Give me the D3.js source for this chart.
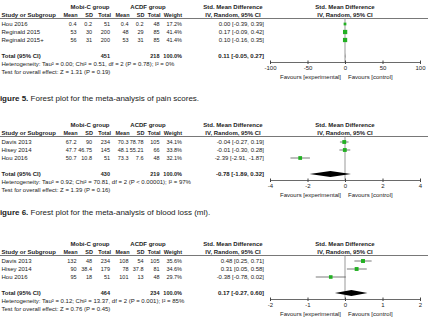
<!DOCTYPE html>
<html>
<head>
<meta charset="utf-8">
<script src="https://cdn.jsdelivr.net/npm/d3@7"></script>
<style>
  body { margin: 0; background: #fff; }
  text { font-family: "Liberation Sans", Arial, sans-serif; fill: #222; }
</style>
</head>
<body>
<div class="chart"></div>
<script>
// data

// Figure 5 - pain scores
var studies5 = ["Hou 2016", "Reginald 2015", "Reginald 2015+"];
var mobi5 = [[0.4, 0.2, 51], [53, 30, 200], [56, 31, 200]];
var acdf5 = [[0.4, 0.2, 48], [48, 29, 85], [53, 31, 85]];
var weight5 = [17.2, 41.4, 41.4];
var smd5 = [[0.00, -0.39, 0.39], [0.17, -0.09, 0.42], [0.10, -0.16, 0.35]];
var total5 = [451, 218, 0.11, -0.05, 0.27];
var het5 = "Heterogeneity: Tau\u00b2 = 0.00; Chi\u00b2 = 0.51, df = 2 (P = 0.78); I\u00b2 = 0%";
var test5 = "Test for overall effect: Z = 1.31 (P = 0.19)";
var ticks5 = [-100, -50, 0, 50, 100];

// Figure 6 - blood loss
var studies6 = ["Davis 2013", "Hisey 2014", "Hou 2016"];
var mobi6 = [[67.2, 90, 234], [47.7, 46.75, 145], [50.7, 10.8, 51]];
var acdf6 = [[70.3, 78.78, 105], [48.1, 55.21, 66], [73.3, 7.6, 48]];
var weight6 = [34.1, 33.8, 32.1];
var smd6 = [[-0.04, -0.27, 0.19], [-0.01, -0.30, 0.28], [-2.39, -2.91, -1.87]];
var total6 = [430, 219, -0.78, -1.89, 0.32];
var het6 = "Heterogeneity: Tau\u00b2 = 0.92; Chi\u00b2 = 70.81, df = 2 (P < 0.00001); I\u00b2 = 97%";
var test6 = "Test for overall effect: Z = 1.39 (P = 0.16)";
var ticks6 = [-4, -2, 0, 2, 4];

// third plot
var studies7 = ["Davis 2013", "Hisey 2014", "Hou 2016"];
var mobi7 = [[132, 48, 234], [90, 38.4, 179], [95, 18, 51]];
var acdf7 = [[108, 54, 105], [78, 37.8, 81], [101, 13, 48]];
var weight7 = [35.6, 34.6, 29.7];
var smd7 = [[0.48, 0.25, 0.71], [0.31, 0.05, 0.58], [-0.38, -0.78, 0.02]];
var total7 = [464, 234, 0.17, -0.27, 0.60];
var het7 = "Heterogeneity: Tau\u00b2 = 0.12; Chi\u00b2 = 13.37, df = 2 (P = 0.001); I\u00b2 = 85%";
var test7 = "Test for overall effect: Z = 0.76 (P = 0.45)";
var ticks7 = [-2, -1, 0, 1, 2];

var captions = [
  {y: 98, bold: "Figure 5.", rest: " Forest plot for the meta-analysis of pain scores."},
  {y: 212, bold: "Figure 6.", rest: " Forest plot for the meta-analysis of blood loss (ml)."}
];

var panels = [
  {top: 0, studies: studies5, mobi: mobi5, acdf: acdf5, weight: weight5, smd: smd5, total: total5, het: het5, test: test5, ticks: ticks5},
  {top: 118, studies: studies6, mobi: mobi6, acdf: acdf6, weight: weight6, smd: smd6, total: total6, het: het6, test: test6, ticks: ticks6},
  {top: 237, studies: studies7, mobi: mobi7, acdf: acdf7, weight: weight7, smd: smd7, total: total7, het: het7, test: test7, ticks: ticks7}
];

var svgWidth = 429, svgHeight = 327;
var fs = 6;      // text
var fsNum = 5.5; // numeric columns

var svg = d3.select(".chart")
  .append("svg")
  .attr("width", svgWidth)
  .attr("height", svgHeight);

// column right edges
var colX = [76.5, 92, 110, 128.5, 143.5, 159.5];
var weightX = 182, ciX = 264, ciHeadX = 233;

function fmt2(v) { return v.toFixed(2); }
function ciText(a) { return fmt2(a[0]) + " [" + fmt2(a[1]) + ", " + fmt2(a[2]) + "]"; }

function txt(g, x, y, s, anchor, bold, size) {
  return g.append("text")
    .attr("x", x)
    .attr("y", y)
    .attr("dy", "0.35em")
    .attr("text-anchor", anchor || "start")
    .attr("font-weight", bold ? "bold" : "normal")
    .attr("font-size", size || fs)
    .text(s);
}

panels.forEach(function(p) {
  var g = svg.append("g").attr("transform", `translate(0, ${p.top})`);

  var x = d3.scaleLinear()
    .domain([p.ticks[0], p.ticks[p.ticks.length - 1]])
    .range([270, 420]);

  var rowY = [24, 32, 40];
  var totalY = 56, axisY = 62;

  // group headers
  txt(g, 90, 7, "Mobi-C group", "middle", true);
  txt(g, 148, 7, "ACDF group", "middle", true);
  txt(g, ciHeadX, 7, "Std. Mean Difference", "middle", true);
  txt(g, x(0), 7, "Std. Mean Difference", "middle", true);

  // column headers
  ["Mean", "SD", "Total", "Mean", "SD", "Total"].forEach(function(h, i) {
    txt(g, colX[i] + 1, 15, h, "end", true, fsNum);
  });
  txt(g, 1.5, 15, "Study or Subgroup", "start", true);
  txt(g, weightX, 15, "Weight", "end", true, fsNum);
  txt(g, ciHeadX, 15, "IV, Random, 95% CI", "middle", true);
  txt(g, x(0), 15, "IV, Random, 95% CI", "middle", true);

  g.append("line")
    .attr("x1", 0).attr("x2", 428)
    .attr("y1", 18.5).attr("y2", 18.5)
    .attr("stroke", "#555")
    .attr("stroke-width", 0.8);

  // study rows
  p.studies.forEach(function(s, i) {
    var y = rowY[i];
    txt(g, 1.5, y, s);
    var vals = p.mobi[i].concat(p.acdf[i]);
    vals.forEach(function(v, j) { txt(g, colX[j], y, String(v), "end", false, fsNum); });
    txt(g, weightX, y, p.weight[i].toFixed(1) + "%", "end", false, fsNum);
    txt(g, ciX, y, ciText(p.smd[i]), "end");
  });

  // total row
  txt(g, 1.5, totalY, "Total (95% CI)", "start", true);
  txt(g, colX[2], totalY, String(p.total[0]), "end", true, fsNum);
  txt(g, colX[5], totalY, String(p.total[1]), "end", true, fsNum);
  txt(g, weightX, totalY, "100.0%", "end", true, fsNum);
  txt(g, ciX, totalY, ciText(p.total.slice(2)), "end", true);
  txt(g, 1.5, 64, p.het);
  txt(g, 1.5, 72, p.test);

  // zero line
  g.append("line")
    .attr("x1", x(0)).attr("x2", x(0))
    .attr("y1", 18.5).attr("y2", axisY)
    .attr("stroke", "#999")
    .attr("stroke-width", 1);

  // CIs and squares
  p.smd.forEach(function(d, i) {
    var y = rowY[i];
    g.append("line")
      .attr("x1", x(d[1])).attr("x2", x(d[2]))
      .attr("y1", y).attr("y2", y)
      .attr("stroke", "#444")
      .attr("stroke-width", 0.7);
    var sz = Math.sqrt(p.weight[i]) * 0.66;
    g.append("rect")
      .attr("x", x(d[0]) - sz / 2)
      .attr("y", y - sz / 2)
      .attr("width", sz)
      .attr("height", sz)
      .attr("fill", "#22b022");
  });

  // diamond
  var t = p.total;
  g.append("path")
    .attr("d", `M${x(t[3])},${totalY} L${x(t[2])},${totalY - 3} L${x(t[4])},${totalY} L${x(t[2])},${totalY + 3} Z`)
    .attr("fill", "#000");

  // axis
  var axis = g.append("g")
    .attr("transform", `translate(0, ${axisY})`)
    .call(d3.axisBottom(x).tickValues(p.ticks).tickFormat(d => String(d)).tickSize(2).tickSizeOuter(0));
  axis.select(".domain").attr("stroke", "#444").attr("stroke-width", 0.8);
  axis.selectAll(".tick line").attr("stroke", "#444").attr("y1", -1.5).attr("y2", 2);
  axis.selectAll(".tick text")
    .attr("font-size", fs)
    .attr("fill", "#222")
    .attr("y", 4);

  txt(g, x(0) - 4, 77, "Favours [experimental]", "end");
  txt(g, x(0) + 3, 77, "Favours [control]", "start");
});

// figure captions
captions.forEach(function(c) {
  var t = svg.append("text")
    .attr("x", -5)
    .attr("y", c.y)
    .attr("dy", "0.35em")
    .attr("font-size", 8);
  t.append("tspan").attr("font-weight", "bold").text(c.bold);
  t.append("tspan").text(c.rest);
});
</script>
</body>
</html>
